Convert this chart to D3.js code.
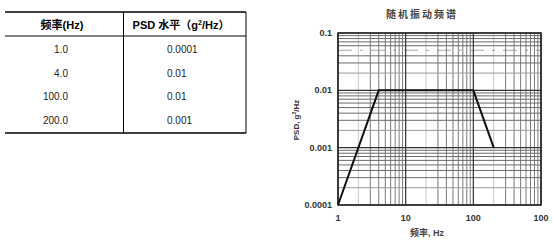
<!DOCTYPE html>
<html>
<head>
<meta charset="utf-8">
<script src="https://cdn.jsdelivr.net/npm/d3@7"></script>
<style>
  body { margin: 0; background: #fff; }
  svg { display: block; font-family: "Liberation Sans", Arial, "Noto Sans CJK SC", sans-serif; }
  .cjk { font-family: "Liberation Sans", "Noto Sans CJK SC", sans-serif; }
</style>
</head>
<body>
<div id="chart"></div>
<script>
// 表格数据 / 曲线数据
const freq = [1, 4, 100, 200];
const psd = [0.0001, 0.01, 0.01, 0.001];
const freqText = ["1.0", "4.0", "100.0", "200.0"];
const psdText = ["0.0001", "0.01", "0.01", "0.001"];

const xTicks = [1, 10, 100, 1000];
const xTickText = ["1", "10", "100", "100"];
const yTicks = [0.0001, 0.001, 0.01, 0.1];
const yTickText = ["0.0001", "0.001", "0.01", "0.1"];

const svg = d3.select("#chart").append("svg")
    .attr("width", 553).attr("height", 241);

// ---- 表格 ----
const tbl = svg.append("g");
const rowY = d3.scaleBand().domain(d3.range(freqText.length)).range([37, 132]);

tbl.append("line").attr("x1", 5).attr("x2", 246).attr("y1", 12).attr("y2", 12)
   .attr("stroke", "#000").attr("stroke-width", 1.5);
tbl.append("line").attr("x1", 5).attr("x2", 246).attr("y1", 36).attr("y2", 36)
   .attr("stroke", "#000").attr("stroke-width", 1);
tbl.append("line").attr("x1", 5).attr("x2", 246).attr("y1", 133).attr("y2", 133)
   .attr("stroke", "#000").attr("stroke-width", 1.5);
[123.5, 246].forEach(xx => {
    tbl.append("line").attr("x1", xx).attr("x2", xx).attr("y1", 12).attr("y2", 133)
       .attr("stroke", "#000").attr("stroke-width", 1);
});

tbl.append("text").attr("class", "cjk").attr("x", 62).attr("y", 29)
   .attr("text-anchor", "middle").attr("font-size", 11).attr("font-weight", "bold")
   .text("频率(Hz)");
const hdr = tbl.append("text").attr("class", "cjk").attr("x", 181).attr("y", 29)
   .attr("text-anchor", "middle").attr("font-size", 11).attr("font-weight", "bold");
hdr.append("tspan").text("PSD 水平（g");
hdr.append("tspan").attr("font-size", 7).attr("dy", -4).text("2");
hdr.append("tspan").attr("dy", 4).text("/Hz）");

tbl.selectAll(".c1").data(freqText).enter().append("text")
   .attr("x", 68).attr("y", (d, i) => rowY(i) + rowY.bandwidth() / 2 + 4)
   .attr("text-anchor", "end").attr("font-size", 10).attr("fill", "#222").text(d => d);
tbl.selectAll(".c2").data(psdText).enter().append("text")
   .attr("x", 167).attr("y", (d, i) => rowY(i) + rowY.bandwidth() / 2 + 4)
   .attr("font-size", 10).attr("fill", "#222").text(d => d);

// ---- 频谱图 ----
const x = d3.scaleLog().domain([1, 1000]).range([338, 541]);
const y = d3.scaleLog().domain([0.0001, 0.1]).range([205, 33]);

const g = svg.append("g");

// 次网格
const minorX = [], minorY = [];
[1, 10, 100].forEach(dec => { for (let k = 2; k <= 9; k++) minorX.push({v: dec * k, k}); });
[0.0001, 0.001, 0.01].forEach(dec => { for (let k = 2; k <= 9; k++) minorY.push({v: dec * k, k}); });

g.selectAll(".vx").data(minorX).enter().append("line")
   .attr("x1", d => x(d.v)).attr("x2", d => x(d.v)).attr("y1", 33).attr("y2", 205)
   .attr("stroke", d => d.k === 2 ? "#c8c8c8" : "#7a7a7a").attr("stroke-width", 1);
g.selectAll(".hy").data(minorY).enter().append("line")
   .attr("x1", 338).attr("x2", 541).attr("y1", d => y(d.v)).attr("y2", d => y(d.v))
   .attr("stroke", d => d.k === 2 ? "#9a9a9a" : "#6a6a6a").attr("stroke-width", 1)
   .attr("stroke-dasharray", d => d.v === 0.05 ? "14,8,3,8" : null)
   .attr("stroke-opacity", d => d.v === 0.05 ? 0.6 : 1);

// 主网格
g.selectAll(".mx").data(xTicks).enter().append("line")
   .attr("x1", d => x(d)).attr("x2", d => x(d)).attr("y1", 33).attr("y2", 205)
   .attr("stroke", "#333").attr("stroke-width", 1.2);
g.selectAll(".my").data(yTicks).enter().append("line")
   .attr("x1", 338).attr("x2", 541).attr("y1", d => y(d)).attr("y2", d => y(d))
   .attr("stroke", "#333").attr("stroke-width", 1.2);

g.append("rect").attr("x", 338).attr("y", 33).attr("width", 203).attr("height", 172)
   .attr("fill", "none").attr("stroke", "#222").attr("stroke-width", 1.5);

// 曲线
const pts = freq.map((f, i) => ({f, p: psd[i]}));
g.append("path").datum(pts)
   .attr("d", d3.line().x(d => x(d.f)).y(d => y(d.p)))
   .attr("fill", "none").attr("stroke", "#111").attr("stroke-width", 2);

// 刻度标签
g.selectAll(".xt").data(xTicks).enter().append("text")
   .attr("x", d => x(d)).attr("y", 221).attr("text-anchor", "middle")
   .attr("font-size", 9).attr("font-weight", "bold").attr("fill", "#333")
   .text((d, i) => xTickText[i]);
g.selectAll(".yt").data(yTicks).enter().append("text")
   .attr("x", 332).attr("y", d => y(d) + 3).attr("text-anchor", "end")
   .attr("font-size", 9).attr("font-weight", "bold").attr("fill", "#333")
   .text((d, i) => yTickText[i]);

// 标题与轴名
g.append("text").attr("class", "cjk").attr("x", 422).attr("y", 18)
   .attr("text-anchor", "middle").attr("font-size", 10).attr("font-weight", "bold")
   .attr("letter-spacing", 2).attr("fill", "#444").text("随机振动频谱");
g.append("text").attr("class", "cjk").attr("x", 427).attr("y", 236)
   .attr("text-anchor", "middle").attr("font-size", 9).attr("font-weight", "bold")
   .attr("fill", "#444").text("频率, Hz");
const yl = g.append("text").attr("class", "cjk")
   .attr("transform", "translate(299,120) rotate(-90)")
   .attr("text-anchor", "middle").attr("font-size", 8).attr("font-weight", "bold")
   .attr("fill", "#333");
yl.append("tspan").text("PSD, g");
yl.append("tspan").attr("font-size", 5).attr("dy", -3).text("2");
yl.append("tspan").attr("dy", 3).text("/Hz");
</script>
</body>
</html>
